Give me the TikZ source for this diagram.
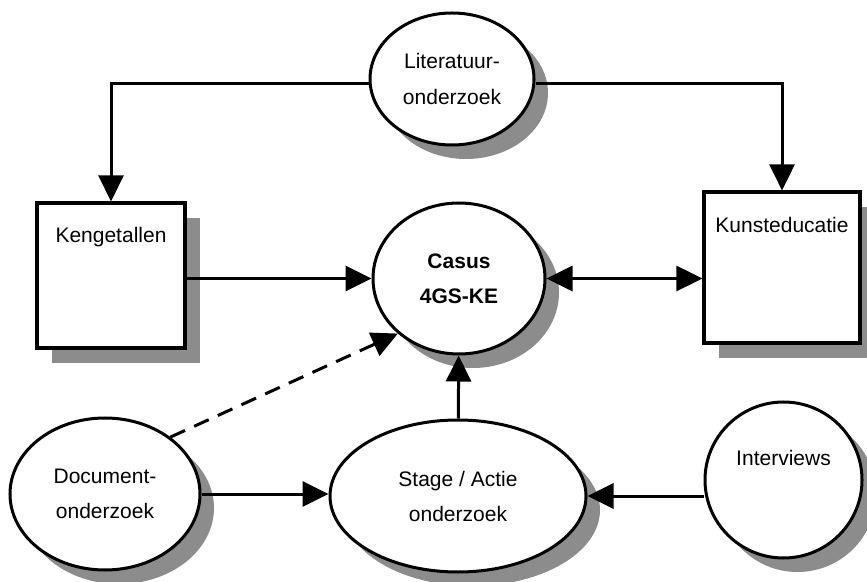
\documentclass[tikz,border=0pt]{standalone}
\usepackage{fontspec}
\setmainfont{Liberation Sans}
\usetikzlibrary{arrows.meta, positioning, shapes.geometric, shadows}

\begin{document}
\begin{tikzpicture}[x=0.5pt, y=-0.5pt,
  every node/.style={font=\fontsize{10.5}{17.5}\selectfont, align=center},
  every label/.style={anchor=center},
  box/.style={draw, line width=1.6pt, fill=white, inner sep=0pt,
              drop shadow={shadow xshift=7.5pt, shadow yshift=-7.5pt, fill=black!45, opacity=1}},
  bubble/.style={ellipse, draw, line width=1.5pt, fill=white, inner sep=0pt,
              drop shadow={shadow xshift=7pt, shadow yshift=-7pt, fill=black!45, opacity=1}},
  ar/.style={-{Triangle[length=13pt, width=12.5pt]}, line width=1.5pt},
  dar/.style={ar, dash pattern=on 8pt off 5pt},
  ar2/.style={{Triangle[length=13pt, width=12.5pt]}-{Triangle[length=13pt, width=12.5pt]}, line width=1.5pt}]
\useasboundingbox (0,0) rectangle (867,582);
% bronnen
\node[bubble, minimum width=82pt, minimum height=66pt] (lit) at (452,79) {Literatuur-\\onderzoek};
\node[box, minimum width=74pt, minimum height=72.5pt,
      label={[yshift=-18pt]north:Kengetallen}] (keng) at (111,275.5) {};
\node[box, minimum width=78pt, minimum height=75.5pt,
      label={[yshift=-17.5pt]north:Kunsteducatie}] (kunst) at (782,267.5) {};
\node[bubble, minimum width=86pt, minimum height=75.5pt] (casus) at (459,278.5) {\textbf{Casus}\\\textbf{4GS-KE}};
\node[bubble, minimum width=95pt, minimum height=76pt] (doc) at (105,494) {Document-\\onderzoek};
\node[bubble, minimum width=128pt, minimum height=76pt] (stage) at (458,496) {Stage / Actie\\onderzoek};
\node[bubble, minimum width=78.5pt, minimum height=78pt,
      label={[yshift=11pt]center:Interviews}] (inter) at (783.5,480) {};
% verbindingen
\draw[ar] ([yshift=-2.5pt]lit.west) -| (keng.north);
\draw[ar] ([yshift=-2.5pt]lit.east) -| (kunst.north);
\draw[ar] (keng.east |- casus.west) -- (casus.west);
\draw[ar2] (casus.east) -- (casus.east -| kunst.west);
\draw[ar] (doc.east) -- (doc.east -| stage.west);
\draw[ar] (stage.east -| inter.west) -- (stage.east);
\draw[ar] (stage) -- (casus);
\draw[dar] (doc.41) -- (casus.222);
\end{tikzpicture}
\end{document}
